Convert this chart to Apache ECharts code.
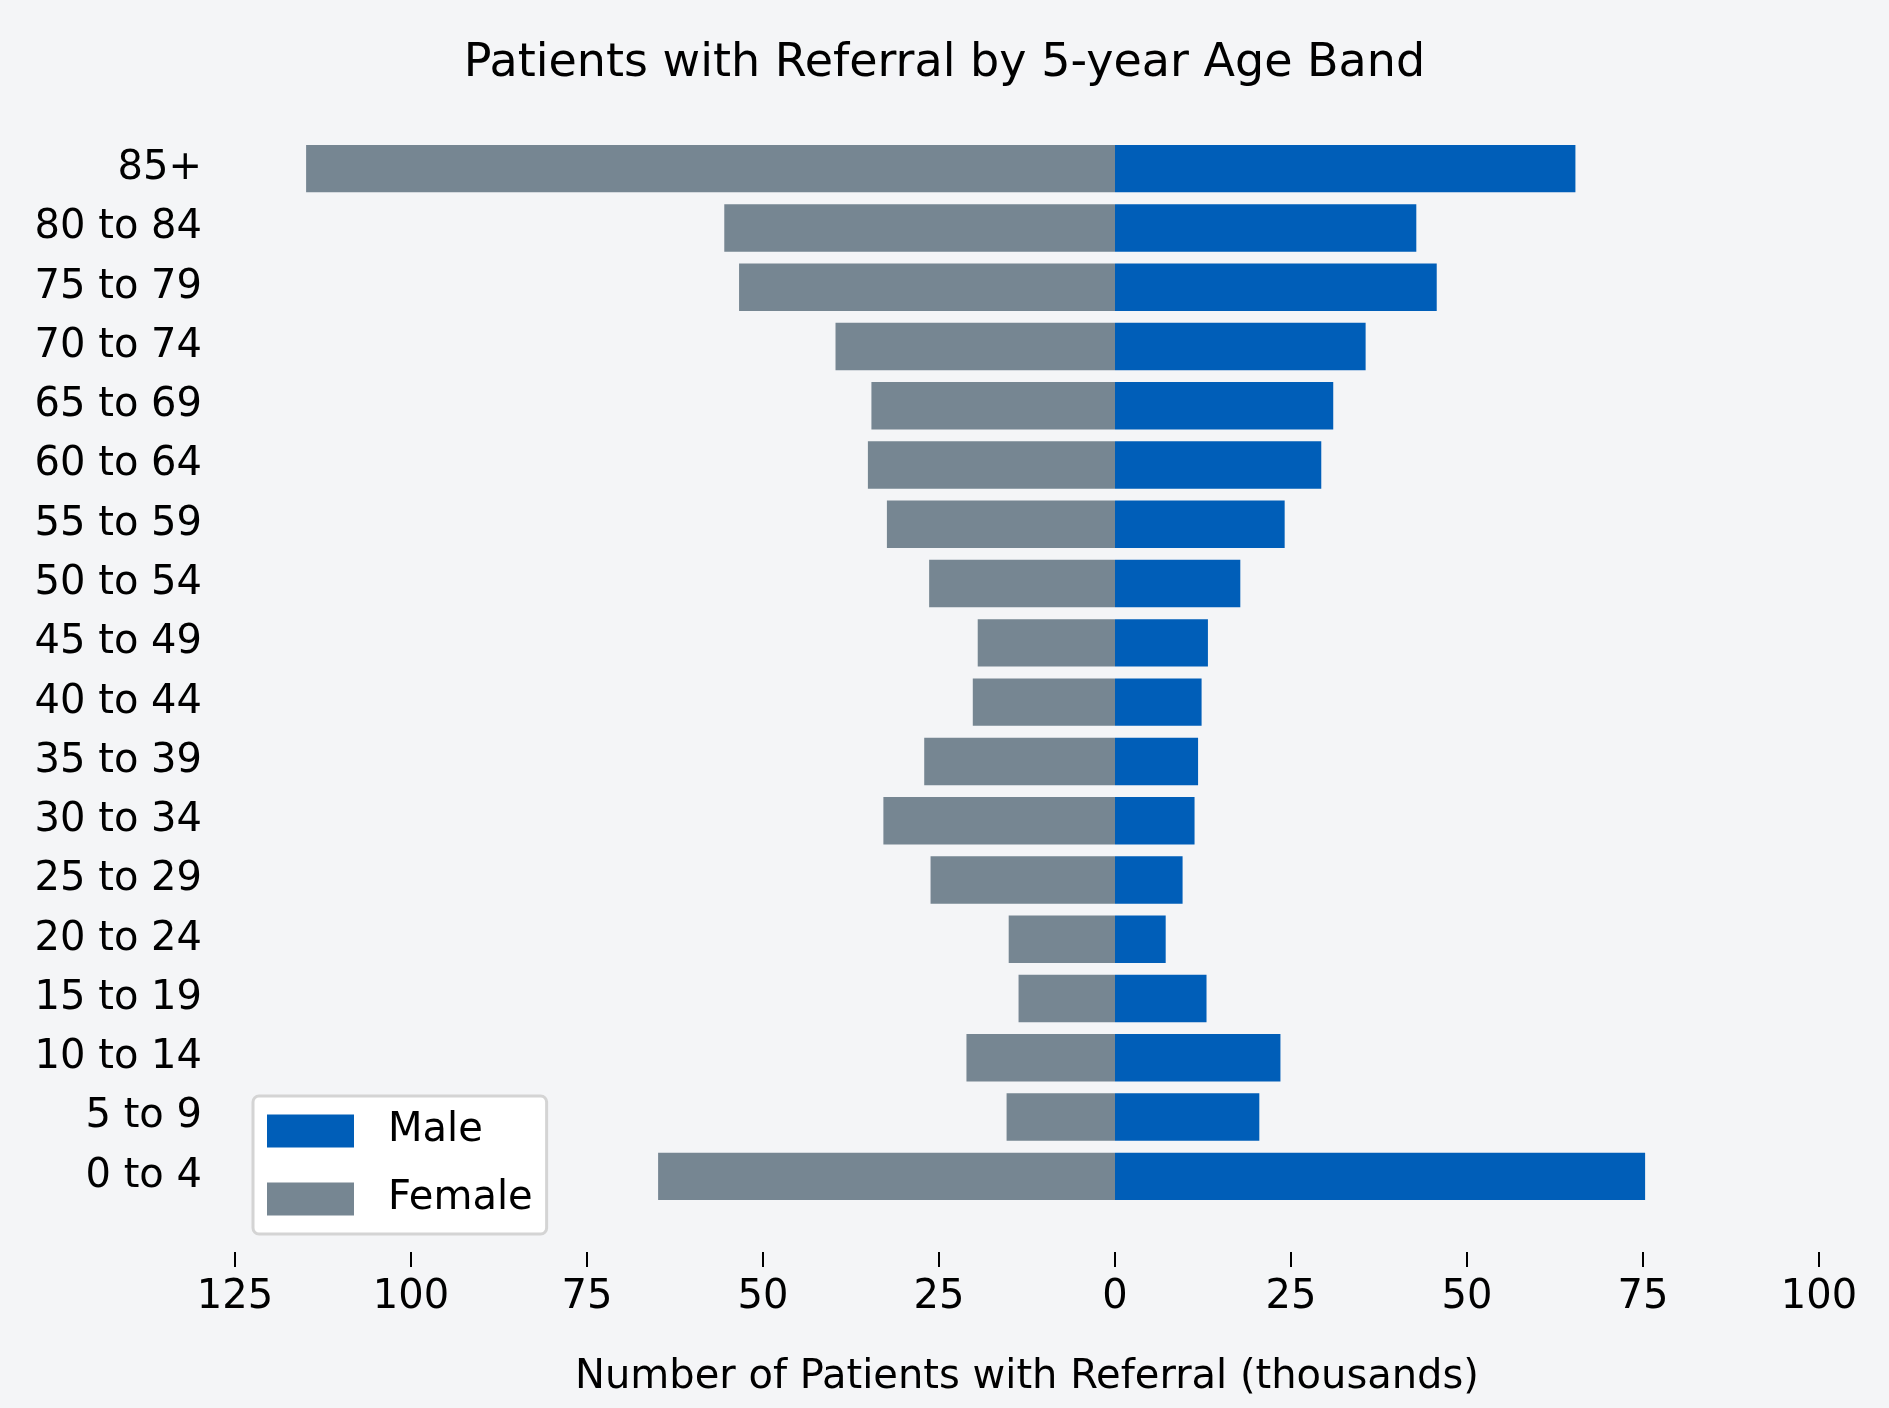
<!DOCTYPE html>
<html><head><meta charset="utf-8">
<script src="https://cdn.jsdelivr.net/npm/echarts@6/dist/echarts.min.js"></script>
<style>html,body{margin:0;padding:0;background:#f4f5f7}#c{width:1889px;height:1408px}</style>
</head><body><div id="c"></div>
<script>
const categories = ['0 to 4','5 to 9','10 to 14','15 to 19','20 to 24','25 to 29','30 to 34','35 to 39','40 to 44','45 to 49','50 to 54','55 to 59','60 to 64','65 to 69','70 to 74','75 to 79','80 to 84','85+'];
const male = [75.3,20.5,23.5,13.0,7.2,9.6,11.3,11.8,12.3,13.2,17.8,24.1,29.3,31.0,35.6,45.7,42.8,65.4];
const female = [64.9,15.4,21.1,13.7,15.1,26.2,32.9,27.1,20.2,19.5,26.4,32.4,35.1,34.6,39.7,53.4,55.5,114.9];
const xTicks = {min:-125, max:100, interval:25};
const font = 'DejaVu Sans';
const chart = echarts.init(document.getElementById('c'));
chart.setOption({
  backgroundColor:'#f4f5f7',
  textStyle:{fontFamily:font},
  title:{text:'Patients with Referral by 5-year Age Band',left:'center',top:36,textStyle:{fontFamily:font,fontSize:46,fontWeight:'normal',color:'#000'}},
  grid:{left:235,right:70,top:139,bottom:202},
  legend:{orient:'vertical',left:253,top:1096,data:['Male','Female'],itemWidth:87,itemHeight:33,itemGap:28,
    backgroundColor:'#fff',borderColor:'#d4d4d4',borderWidth:3,borderRadius:6,padding:[15,14,15,14],
    textStyle:{fontFamily:font,fontSize:40,color:'#000',padding:[0,4,0,29]},icon:'rect'},
  xAxis:{type:'value',min:xTicks.min,max:xTicks.max,interval:xTicks.interval,offset:46,
    axisLine:{show:true,lineStyle:{color:'rgba(0,0,0,0)'}},axisTick:{show:true,length:15,lineStyle:{color:'#000',width:2}},splitLine:{show:false},
    axisLabel:{fontSize:40,color:'#000',margin:26,formatter:v=>Math.abs(v)},
    name:'Number of Patients with Referral (thousands)',nameLocation:'middle',nameGap:106,
    nameTextStyle:{fontSize:40,color:'#000'}},
  yAxis:{type:'category',data:categories,axisLine:{show:true,lineStyle:{color:'rgba(0,0,0,0)'}},
    axisTick:{show:true,length:15,alignWithLabel:true,lineStyle:{color:'#000',width:2}},
    axisLabel:{fontSize:40,color:'#000',margin:33}},
  series:[
    {name:'Male',type:'bar',data:male,barCategoryGap:'20%',barGap:'-100%',itemStyle:{color:'#005EB8'}},
    {name:'Female',type:'bar',data:female.map(v=>-v),barCategoryGap:'20%',barGap:'-100%',itemStyle:{color:'#768692'}}
  ]
});
</script></body></html>
